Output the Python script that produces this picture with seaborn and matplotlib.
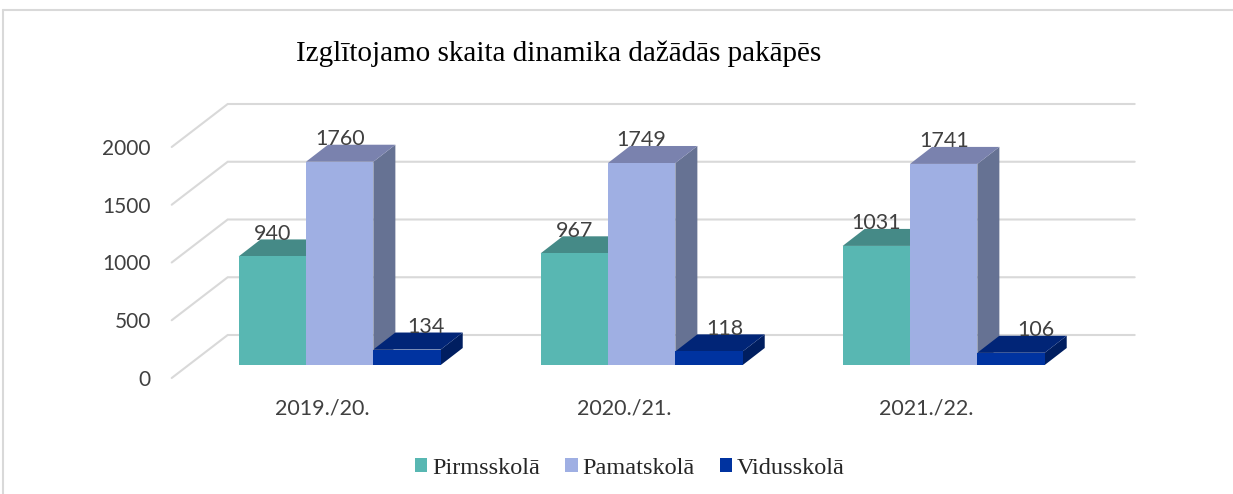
import matplotlib
matplotlib.use("Agg")

import matplotlib.pyplot as plt
from matplotlib.transforms import ScaledTranslation
import pandas as pd
import seaborn as sns

# =====================================================
# DATA
# =====================================================
title = "Izglītojamo skaita dinamika dažādās pakāpēs"
years = ["2019./20.", "2020./21.", "2021./22."]
levels = ["Pirmsskolā", "Pamatskolā", "Vidusskolā"]
pirmsskola = [940, 967, 1031]
pamatskola = [1760, 1749, 1741]
vidusskola = [134, 118, 106]
y_ticks = [0, 500, 1000, 1500, 2000]

front_colors = ["#58B7B2", "#9FAFE3", "#0033A0"]
top_colors = ["#458A87", "#7A82AE", "#012577"]
side_colors = ["#3E7C79", "#667293", "#001E60"]
grid_color = "#D9D9D9"

df = pd.DataFrame({
    "year": years * 3,
    "level": [lv for lv in levels for _ in years],
    "value": pirmsskola + pamatskola + vidusskola,
})

# =====================================================
# STYLE
# =====================================================
sns.set_style("white")
plt.rcParams["font.family"] = ["Lato", "DejaVu Sans"]

W, H = 1233, 494
fig = plt.figure(figsize=(W / 100, H / 100), dpi=100)

# axes = plane of the bar fronts, in pixels of the picture
left, right = 188.7, 1094.7
base, top = 365, 134
ax = fig.add_axes([left / W, 1 - base / H, (right - left) / W, (base - top) / H])

sns.barplot(
    data=df, x="year", y="value", hue="level",
    hue_order=levels, palette=front_colors,
    width=0.669, gap=0, saturation=1, linewidth=0, ax=ax,
)
ax.set_xlim(-0.5, 2.5)
ax.set_ylim(0, 2000)
ax.set_xlabel("")
ax.set_ylabel("")
sns.despine(ax=ax, left=True, bottom=True)

# pixel -> data
px_x = 3 / (right - left)
px_y = 2000 / (base - top)

# =====================================================
# WALL + GRID
# =====================================================
for v in y_ticks:
    x0, y0 = -0.5 - 17 * px_x, v - 13 * px_y
    x1, y1 = -0.5 + 39 * px_x, v + 30 * px_y
    x2 = 2.5 + 40 * px_x
    ax.plot([x0, x1, x2], [y0, y1, y1], color=grid_color, lw=1.5,
            clip_on=False, zorder=0.5, solid_joinstyle="miter")

# =====================================================
# 3D FACES
# =====================================================
dx, dy = 22 * px_x, 17 * px_y
for i, cont in enumerate(ax.containers):
    for bar in cont:
        x, w, h = bar.get_x(), bar.get_width(), bar.get_height()
        z = 2 + i
        ax.fill([x + w, x + w + dx, x + w + dx, x + w],
                [0, dy, h + dy, h],
                color=side_colors[i], lw=0, clip_on=False, zorder=z)
        ax.fill([x, x + dx, x + w + dx, x + w],
                [h, h + dy, h + dy, h],
                color=top_colors[i], lw=0, clip_on=False, zorder=z + 0.1)
        bar.set_zorder(z + 0.2)

# =====================================================
# VALUE LABELS
# =====================================================
label_dx = [[0, 0, 0], [0, 0, 0], [19, 16, 25]]
for i, cont in enumerate(ax.containers):
    for j, bar in enumerate(cont):
        ax.annotate(
            f"{int(bar.get_height())}",
            (bar.get_x() + bar.get_width() / 2, bar.get_height()),
            xytext=(label_dx[i][j] * 0.72, 22.5 * 0.72),
            textcoords="offset points",
            ha="center", va="center", fontsize=15.5, color="#404040",
            annotation_clip=False, zorder=10,
        )

# =====================================================
# TICKS
# =====================================================
ax.set_yticks(y_ticks)
ax.tick_params(axis="both", length=0, labelcolor="#404040")
ax.tick_params(axis="y", pad=15, labelsize=15)
ax.tick_params(axis="x", pad=15, labelsize=15.5)
shift = ScaledTranslation(-17 / 100, -13 / 100, fig.dpi_scale_trans)
for lab in ax.get_xticklabels() + ax.get_yticklabels():
    lab.set_transform(lab.get_transform() + shift)

# =====================================================
# TITLE + LEGEND
# =====================================================
fig.text(559 / W, 1 - 54 / H, title, ha="center", va="center",
         family="Liberation Serif", fontsize=21, color="#000000")

sns.move_legend(
    ax, "center", bbox_to_anchor=(630 / W, 1 - 468 / H),
    bbox_transform=fig.transFigure, ncol=3, frameon=False, title=None,
    prop={"family": "Liberation Serif", "size": 17.5},
    handlelength=0.5, handleheight=0.5, handletextpad=0.2,
    columnspacing=1.05,
)

# =====================================================
# CHART BORDER
# =====================================================
fig.add_artist(plt.Line2D([3 / W, 3 / W], [0, 1 - 10 / H], color=grid_color, lw=1.5))
fig.add_artist(plt.Line2D([3 / W, 1], [1 - 10 / H, 1 - 10 / H], color=grid_color, lw=1.5))

fig.savefig("out.png", dpi=100)
